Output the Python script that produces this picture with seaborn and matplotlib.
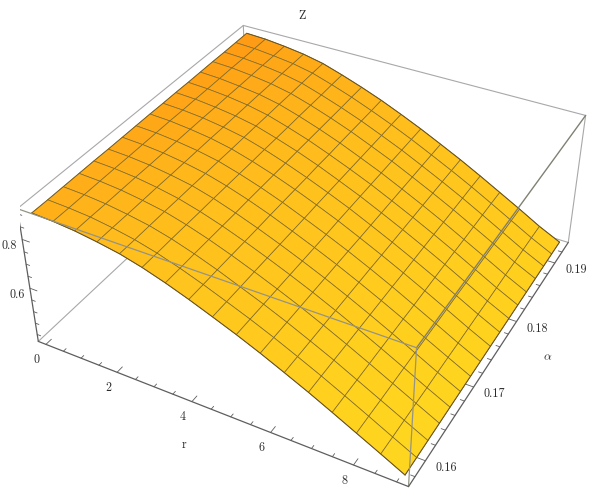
import numpy as np
import seaborn as sns
import matplotlib
matplotlib.use("Agg")
import matplotlib.pyplot as plt
from mpl_toolkits.mplot3d import proj3d

# Surface values, one row per alpha mesh line
r_grid = [0, 0.57, 1.14, 1.71, 2.28, 2.84, 3.41, 3.98, 4.55, 5.12, 5.69, 6.26, 6.83, 7.39, 7.96, 8.53, 9.1]
alpha_grid = [0.1575, 0.1597, 0.1619, 0.1642, 0.1664, 0.1686, 0.1708, 0.1730, 0.1753,
              0.1775, 0.1797, 0.1819, 0.1841, 0.1864, 0.1886, 0.1908, 0.1930]
z_rows = [
    [0.898, 0.894, 0.886, 0.873, 0.857, 0.834, 0.805, 0.772, 0.736, 0.699, 0.659, 0.616, 0.572, 0.526, 0.478, 0.430, 0.381],
    [0.898, 0.894, 0.887, 0.874, 0.857, 0.834, 0.805, 0.772, 0.736, 0.699, 0.659, 0.616, 0.572, 0.526, 0.478, 0.429, 0.381],
    [0.899, 0.895, 0.887, 0.874, 0.858, 0.835, 0.806, 0.773, 0.736, 0.699, 0.659, 0.616, 0.572, 0.525, 0.477, 0.429, 0.381],
    [0.900, 0.896, 0.888, 0.875, 0.859, 0.835, 0.806, 0.773, 0.737, 0.699, 0.659, 0.616, 0.571, 0.525, 0.477, 0.429, 0.381],
    [0.901, 0.897, 0.889, 0.876, 0.859, 0.835, 0.806, 0.773, 0.737, 0.699, 0.659, 0.616, 0.571, 0.525, 0.477, 0.428, 0.381],
    [0.901, 0.897, 0.889, 0.876, 0.860, 0.836, 0.806, 0.773, 0.737, 0.699, 0.659, 0.616, 0.571, 0.525, 0.477, 0.428, 0.381],
    [0.902, 0.898, 0.890, 0.877, 0.860, 0.836, 0.807, 0.774, 0.737, 0.699, 0.659, 0.616, 0.571, 0.525, 0.476, 0.428, 0.381],
    [0.903, 0.899, 0.890, 0.878, 0.861, 0.836, 0.807, 0.774, 0.737, 0.699, 0.659, 0.616, 0.571, 0.524, 0.476, 0.427, 0.381],
    [0.904, 0.900, 0.891, 0.879, 0.861, 0.836, 0.807, 0.774, 0.738, 0.700, 0.658, 0.615, 0.570, 0.524, 0.476, 0.427, 0.381],
    [0.904, 0.900, 0.892, 0.879, 0.862, 0.837, 0.807, 0.774, 0.738, 0.700, 0.658, 0.615, 0.570, 0.524, 0.476, 0.427, 0.381],
    [0.905, 0.901, 0.892, 0.880, 0.863, 0.837, 0.808, 0.775, 0.738, 0.700, 0.658, 0.615, 0.570, 0.524, 0.475, 0.426, 0.381],
    [0.905, 0.901, 0.893, 0.881, 0.863, 0.837, 0.808, 0.774, 0.738, 0.700, 0.658, 0.615, 0.570, 0.524, 0.475, 0.426, 0.381],
    [0.906, 0.902, 0.893, 0.882, 0.864, 0.838, 0.808, 0.775, 0.738, 0.700, 0.658, 0.615, 0.570, 0.523, 0.475, 0.426, 0.381],
    [0.907, 0.903, 0.894, 0.882, 0.864, 0.838, 0.808, 0.775, 0.738, 0.700, 0.658, 0.615, 0.570, 0.523, 0.475, 0.425, 0.381],
    [0.907, 0.903, 0.895, 0.883, 0.865, 0.838, 0.808, 0.775, 0.738, 0.700, 0.658, 0.615, 0.570, 0.523, 0.474, 0.425, 0.381],
    [0.908, 0.904, 0.895, 0.884, 0.866, 0.839, 0.809, 0.775, 0.739, 0.700, 0.658, 0.615, 0.570, 0.523, 0.474, 0.425, 0.381],
    [0.909, 0.905, 0.896, 0.884, 0.866, 0.839, 0.809, 0.776, 0.739, 0.700, 0.658, 0.615, 0.569, 0.522, 0.474, 0.424, 0.381],
]

# Axis limits and ticks
r_lim = (-0.22, 9.27)
alpha_lim = (0.15678, 0.19378)
z_lim = (0.3691, 0.9208)
r_major = [0, 2, 4, 6, 8]
r_minor = [0.5, 1, 1.5, 2.5, 3, 3.5, 4.5, 5, 5.5, 6.5, 7, 7.5, 8.5, 9]
alpha_major = [0.16, 0.17, 0.18, 0.19]
alpha_minor = [0.158, 0.162, 0.164, 0.166, 0.168, 0.172, 0.174, 0.176, 0.178, 0.182, 0.184, 0.186, 0.188, 0.192]
z_major = [0.6, 0.8]
z_minor = [0.4, 0.45, 0.5, 0.55, 0.65, 0.7, 0.75, 0.85, 0.9]

sns.set_theme(style="white")
plt.rcParams["font.family"] = ["cmr10", "DejaVu Serif"]
plt.rcParams["mathtext.fontset"] = "cm"
plt.rcParams["axes.formatter.use_mathtext"] = True

box_color = "#a8a8a8"
axis_color = "#5e5e5e"
mesh_color = "#7f6a28"
text_color = "#2b2b2b"
label_size = 8.7
surface_cmap = sns.blend_palette(["#ff9814", "#ffbe1c", "#ffd81f"], as_cmap=True)

fig = plt.figure(figsize=(5.89, 4.88), dpi=100, facecolor="white")
# numbers fitted so the box corners land where they are in the reference
ax = fig.add_axes([19.86 / 589, -34.61 / 488, 575.76 / 589, 575.76 / 488], projection="3d")
ax.set_proj_type("persp", focal_length=0.4404)
ax.view_init(elev=36.313, azim=-61.542, roll=-0.003)
ax.set_box_aspect((1.0731, 1.0729, 0.4280))
ax.computed_zorder = False
ax.set_axis_off()

R, A = np.meshgrid(r_grid, alpha_grid)
Z = np.array(z_rows)

# colour runs from orange at r=0 to yellow at large r and low alpha
r_frac = (R - R.min()) / (R.max() - R.min())
a_frac = (A - A.min()) / (A.max() - A.min())
face_colors = surface_cmap((0.78 * r_frac + 0.22 * (1 - a_frac)) ** 0.75)

r0, r1 = r_lim
a0, a1 = alpha_lim
z0, z1 = z_lim


def edge(p, q, color=box_color, lw=0.8, zorder=1):
    ax.plot([p[0], q[0]], [p[1], q[1]], [p[2], q[2]], color=color, lw=lw, zorder=zorder,
            solid_capstyle="round")


def tick_label(p, text, dx, dy):
    # label sits a fixed number of pixels away from its tick, y up
    x2, y2, _ = proj3d.proj_transform(p[0], p[1], p[2], ax.get_proj())
    ax.annotate(text, xy=(x2, y2), xycoords="data", xytext=(dx, dy), textcoords="offset pixels",
                color=text_color, fontsize=label_size, ha="center", va="center", zorder=5)


# box edges behind the surface
edge((r0, a0, z1), (r0, a1, z1))
edge((r0, a1, z1), (r1, a1, z1))
edge((r1, a1, z1), (r1, a1, z0))
edge((r0, a0, z0), (r0, a1, z0))
edge((r0, a1, z0), (r1, a1, z0))
edge((r0, a1, z0), (r0, a1, z1))

ax.plot_surface(R, A, Z, rstride=1, cstride=1, facecolors=face_colors, shade=False,
                edgecolor=mesh_color, linewidth=0.5, antialiased=True, zorder=2)

# outline of the surface
ax.plot(R[0], A[0], Z[0], color="#6b5420", lw=0.7, zorder=3)
ax.plot(R[-1], A[-1], Z[-1], color="#6b5420", lw=0.7, zorder=3)
ax.plot(R[:, 0], A[:, 0], Z[:, 0], color="#7a6026", lw=0.6, zorder=3)
ax.plot(R[:, -1], A[:, -1], Z[:, -1], color="#6b5420", lw=0.7, zorder=3)

# box edges in front of the surface
edge((r0, a0, z1), (r1, a0, z1), color="#959385", lw=0.9, zorder=4)
edge((r1, a0, z1), (r1, a1, z1), color="#808074", lw=1.0, zorder=4)
edge((r1, a0, z1), (r1, a0, z0), color="#959385", lw=0.9, zorder=4)

# the three axes with tick marks
edge((r0, a0, z0), (r1, a0, z0), color=axis_color, lw=0.9, zorder=4)
edge((r1, a0, z0), (r1, a1, z0), color=axis_color, lw=0.9, zorder=4)
edge((r0, a0, z0), (r0, a0, z1), color=axis_color, lw=0.9, zorder=4)

for ticks, size in ((r_major, 0.0008), (r_minor, 0.0004)):
    for v in ticks:
        edge((v, a0, z0), (v, a0 + size, z0), color=axis_color, lw=0.6, zorder=4)
for ticks, size in ((alpha_major, 0.2), (alpha_minor, 0.1)):
    for v in ticks:
        edge((r1, v, z0), (r1 - size, v, z0), color=axis_color, lw=0.6, zorder=4)
for ticks, size in ((z_major, 0.2), (z_minor, 0.1)):
    for v in ticks:
        edge((r0, a0, v), (r0 + size, a0, v), color=axis_color, lw=0.6, zorder=4)

ax.set_xlim(r0, r1)
ax.set_ylim(a0, a1)
ax.set_zlim(z0, z1)

for v in r_major:
    tick_label((v, a0, z0), str(v), -9, -15.5)
for v in alpha_major:
    tick_label((r1, v, z0), f"{v:.2f}", 21, -7)
for v in z_major:
    tick_label((r0, a0, v), f"{v:.1f}", -12.7, -6.5)

fig.text(301.7 / 589, 1 - 16 / 488, "Z", color=text_color, fontsize=label_size, ha="center", va="center")
fig.text(184 / 589, 1 - 445 / 488, "r", color=text_color, fontsize=label_size, ha="center", va="center")
fig.text(547.7 / 589, 1 - 357 / 488, r"$\alpha$", color=text_color, fontsize=label_size, ha="center", va="center")

fig.savefig("out.png", dpi=100)
